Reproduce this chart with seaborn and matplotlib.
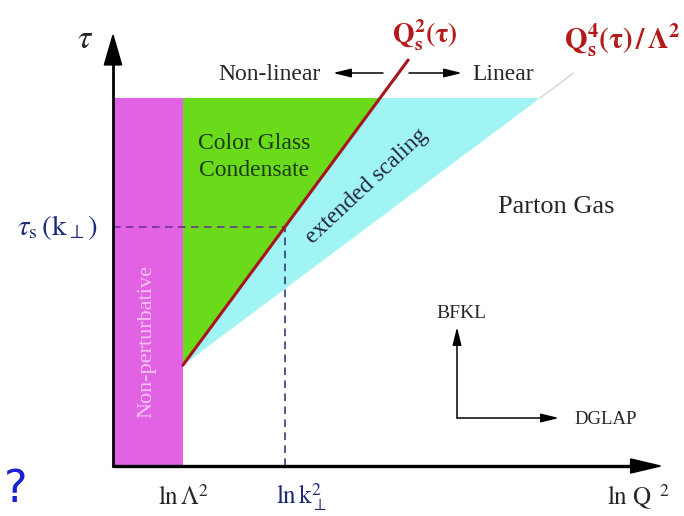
import numpy as np
import pandas as pd
import matplotlib
matplotlib.use("Agg")
import matplotlib.pyplot as plt
from matplotlib.patches import Polygon, Rectangle, FancyArrow
import seaborn as sns

# Schematic phase diagram of high-energy QCD: x = ln Q^2, y = tau
ln_lambda2 = 1.29      # ln Λ^2  (edge of the non-perturbative band)
ln_k2 = 3.17           # ln k⊥^2 (probe momentum)
tau_0 = 1.86           # rapidity where both saturation lines start
tau_max = 6.79         # upper end of the shaded regions
qs2_slope = 0.738      # d ln Qs^2 / d tau
qs4_slope = 1.337      # d ln(Qs^4/Λ^2) / d tau
qs2_tau_end = 7.49     # where the Qs^2 line stops
qs4_tau_end = 7.25     # where the Qs^4/Λ^2 guide stops
x_axis_end = 10.1
y_axis_end = 7.95

sns.set_theme(style="white")
plt.rcParams["font.family"] = ["Liberation Serif", "DejaVu Serif"]
plt.rcParams["mathtext.fontset"] = "stix"
plt.rcParams["hatch.linewidth"] = 0.5

SCALE = 54.2  # pixels per unit
fig = plt.figure(figsize=(6.84, 5.16), dpi=100)
ax = fig.add_axes([0, 0, 1, 1])
ax.set_xlim(-113 / SCALE, (684 - 113) / SCALE)
ax.set_ylim(-(516 - 466) / SCALE, 466 / SCALE)
ax.axis("off")


def qs2(t):
    return ln_lambda2 + qs2_slope * (t - tau_0)


def qs4(t):
    return ln_lambda2 + qs4_slope * (t - tau_0)


def P(xp, yp):
    """Pixel position to data coordinates (for annotations)."""
    return (xp - 113) / SCALE, (466 - yp) / SCALE


# Non-perturbative band
ax.add_patch(Rectangle((0, 0), ln_lambda2, tau_max, facecolor="#e262e4",
                       edgecolor="none", zorder=1))

# Extended scaling region
ax.add_patch(Polygon([(ln_lambda2, tau_0), (qs2(tau_max), tau_max),
                      (qs4(tau_max), tau_max)], closed=True,
                     facecolor="#a0f4f4", edgecolor="none", zorder=1))

# Color glass condensate
ax.add_patch(Polygon([(ln_lambda2, tau_0), (ln_lambda2, tau_max),
                      (qs2(tau_max), tau_max)], closed=True,
                     facecolor="#70e41c", edgecolor="#64d218", lw=0,
                     hatch="/" * 16, zorder=1))

# Saturation lines
t2 = np.array([tau_0, qs2_tau_end])
sat = pd.DataFrame({"x": qs2(t2), "tau": t2})
sns.lineplot(data=sat, x="x", y="tau", ax=ax, color="#a8141c", lw=2.2,
             sort=False, zorder=4)
t4 = np.array([tau_max, qs4_tau_end])
ext = pd.DataFrame({"x": qs4(t4), "tau": t4})
sns.lineplot(data=ext, x="x", y="tau", ax=ax, color="#d4d4d4", lw=1.0,
             sort=False, zorder=3)

# Dashed guides to tau_s(k)
tau_s = tau_0 + (ln_k2 - ln_lambda2) / qs2_slope
ax.plot([0, ln_k2], [tau_s, tau_s], color="#6a2a9a", lw=1.1,
        dashes=(5, 3.5), zorder=3)
ax.plot([ln_k2, ln_k2], [0, tau_s], color="#2a2a70", lw=1.1,
        dashes=(5, 3.5), zorder=3)

# Main axes with arrows
ax.plot([0, 0], [0, y_axis_end - 0.5], color="black", lw=2.0, zorder=5)
ax.add_patch(FancyArrow(0, y_axis_end - 0.55, 0, 0.55, width=0, head_width=0.32,
                        head_length=0.55, length_includes_head=True,
                        color="black", zorder=5))
ax.plot([0, x_axis_end - 0.5], [0, 0], color="black", lw=2.4, zorder=5)
ax.add_patch(FancyArrow(x_axis_end - 0.55, 0, 0.55, 0, width=0, head_width=0.26,
                        head_length=0.55, length_includes_head=True,
                        color="black", zorder=5))


def small_arrow(p0, p1):
    x0, y0 = P(*p0)
    x1, y1 = P(*p1)
    ax.annotate("", xy=(x1, y1), xytext=(x0, y0),
                arrowprops=dict(arrowstyle="-|>,head_length=0.9,head_width=0.22",
                                color="black", lw=1.1, shrinkA=0, shrinkB=0),
                zorder=6)


# Non-linear / Linear arrows
small_arrow((383, 73), (333, 73))
small_arrow((409, 73), (462, 73))

# BFKL / DGLAP directions
small_arrow((457, 418), (457, 327))
small_arrow((457, 418), (559, 418))

# Labels
ax.text(*P(85, 40), r"$\tau$", fontsize=24, ha="center", va="center")
ax.text(*P(425, 35), r"$\mathbf{Q_s^{2}(\tau)}$", fontsize=20, color="#b41a1a",
        ha="center", va="center")
ax.text(*P(622, 40), r"$\mathbf{Q_s^{4}(\tau)\,/\,\Lambda^{2}}$", fontsize=21,
        color="#b41a1a", ha="center", va="center")
ax.text(*P(269, 74), "Non-linear", fontsize=17, ha="center", va="center")
ax.text(*P(503, 74), "Linear", fontsize=17, ha="center", va="center")
ax.text(*P(254, 143), "Color Glass", fontsize=17, color="#1c3a14",
        ha="center", va="center")
ax.text(*P(254, 170), "Condensate", fontsize=17, color="#1c3a14",
        ha="center", va="center")
ax.text(*P(367, 186), "extended scaling", fontsize=17, color="#22263e",
        rotation=43, ha="center", va="center", rotation_mode="anchor")
ax.text(*P(556, 207), "Parton Gas", fontsize=19, ha="center", va="center")
ax.text(*P(147, 341), "Non-perturbative", fontsize=16, color="#f4c4f2",
        rotation=90, ha="center", va="center")
ax.text(*P(461, 313), "BFKL", fontsize=14, ha="center", va="center")
ax.text(*P(606, 420), "DGLAP", fontsize=13.5, ha="center", va="center")
ax.text(*P(57, 227), r"$\tau_{\mathrm{s}}\,(\mathrm{k}_{\perp})$", fontsize=21,
        color="#1c2a78", ha="center", va="center")
ax.text(*P(183, 497), r"$\mathrm{ln}\,\Lambda^{2}$", fontsize=18,
        ha="center", va="center")
ax.text(*P(302, 497), r"$\mathrm{ln}\,\mathrm{k}_{\perp}^{2}$", fontsize=18,
        color="#1c2a78", ha="center", va="center")
ax.text(*P(638, 497), r"$\mathrm{ln\ Q}^{\ \ 2}$", fontsize=18,
        ha="center", va="center")
ax.text(*P(16, 490), "?", fontsize=32, color="#1a22d0", ha="center",
        va="center", family="DejaVu Sans")

fig.savefig("out.png", dpi=100)
